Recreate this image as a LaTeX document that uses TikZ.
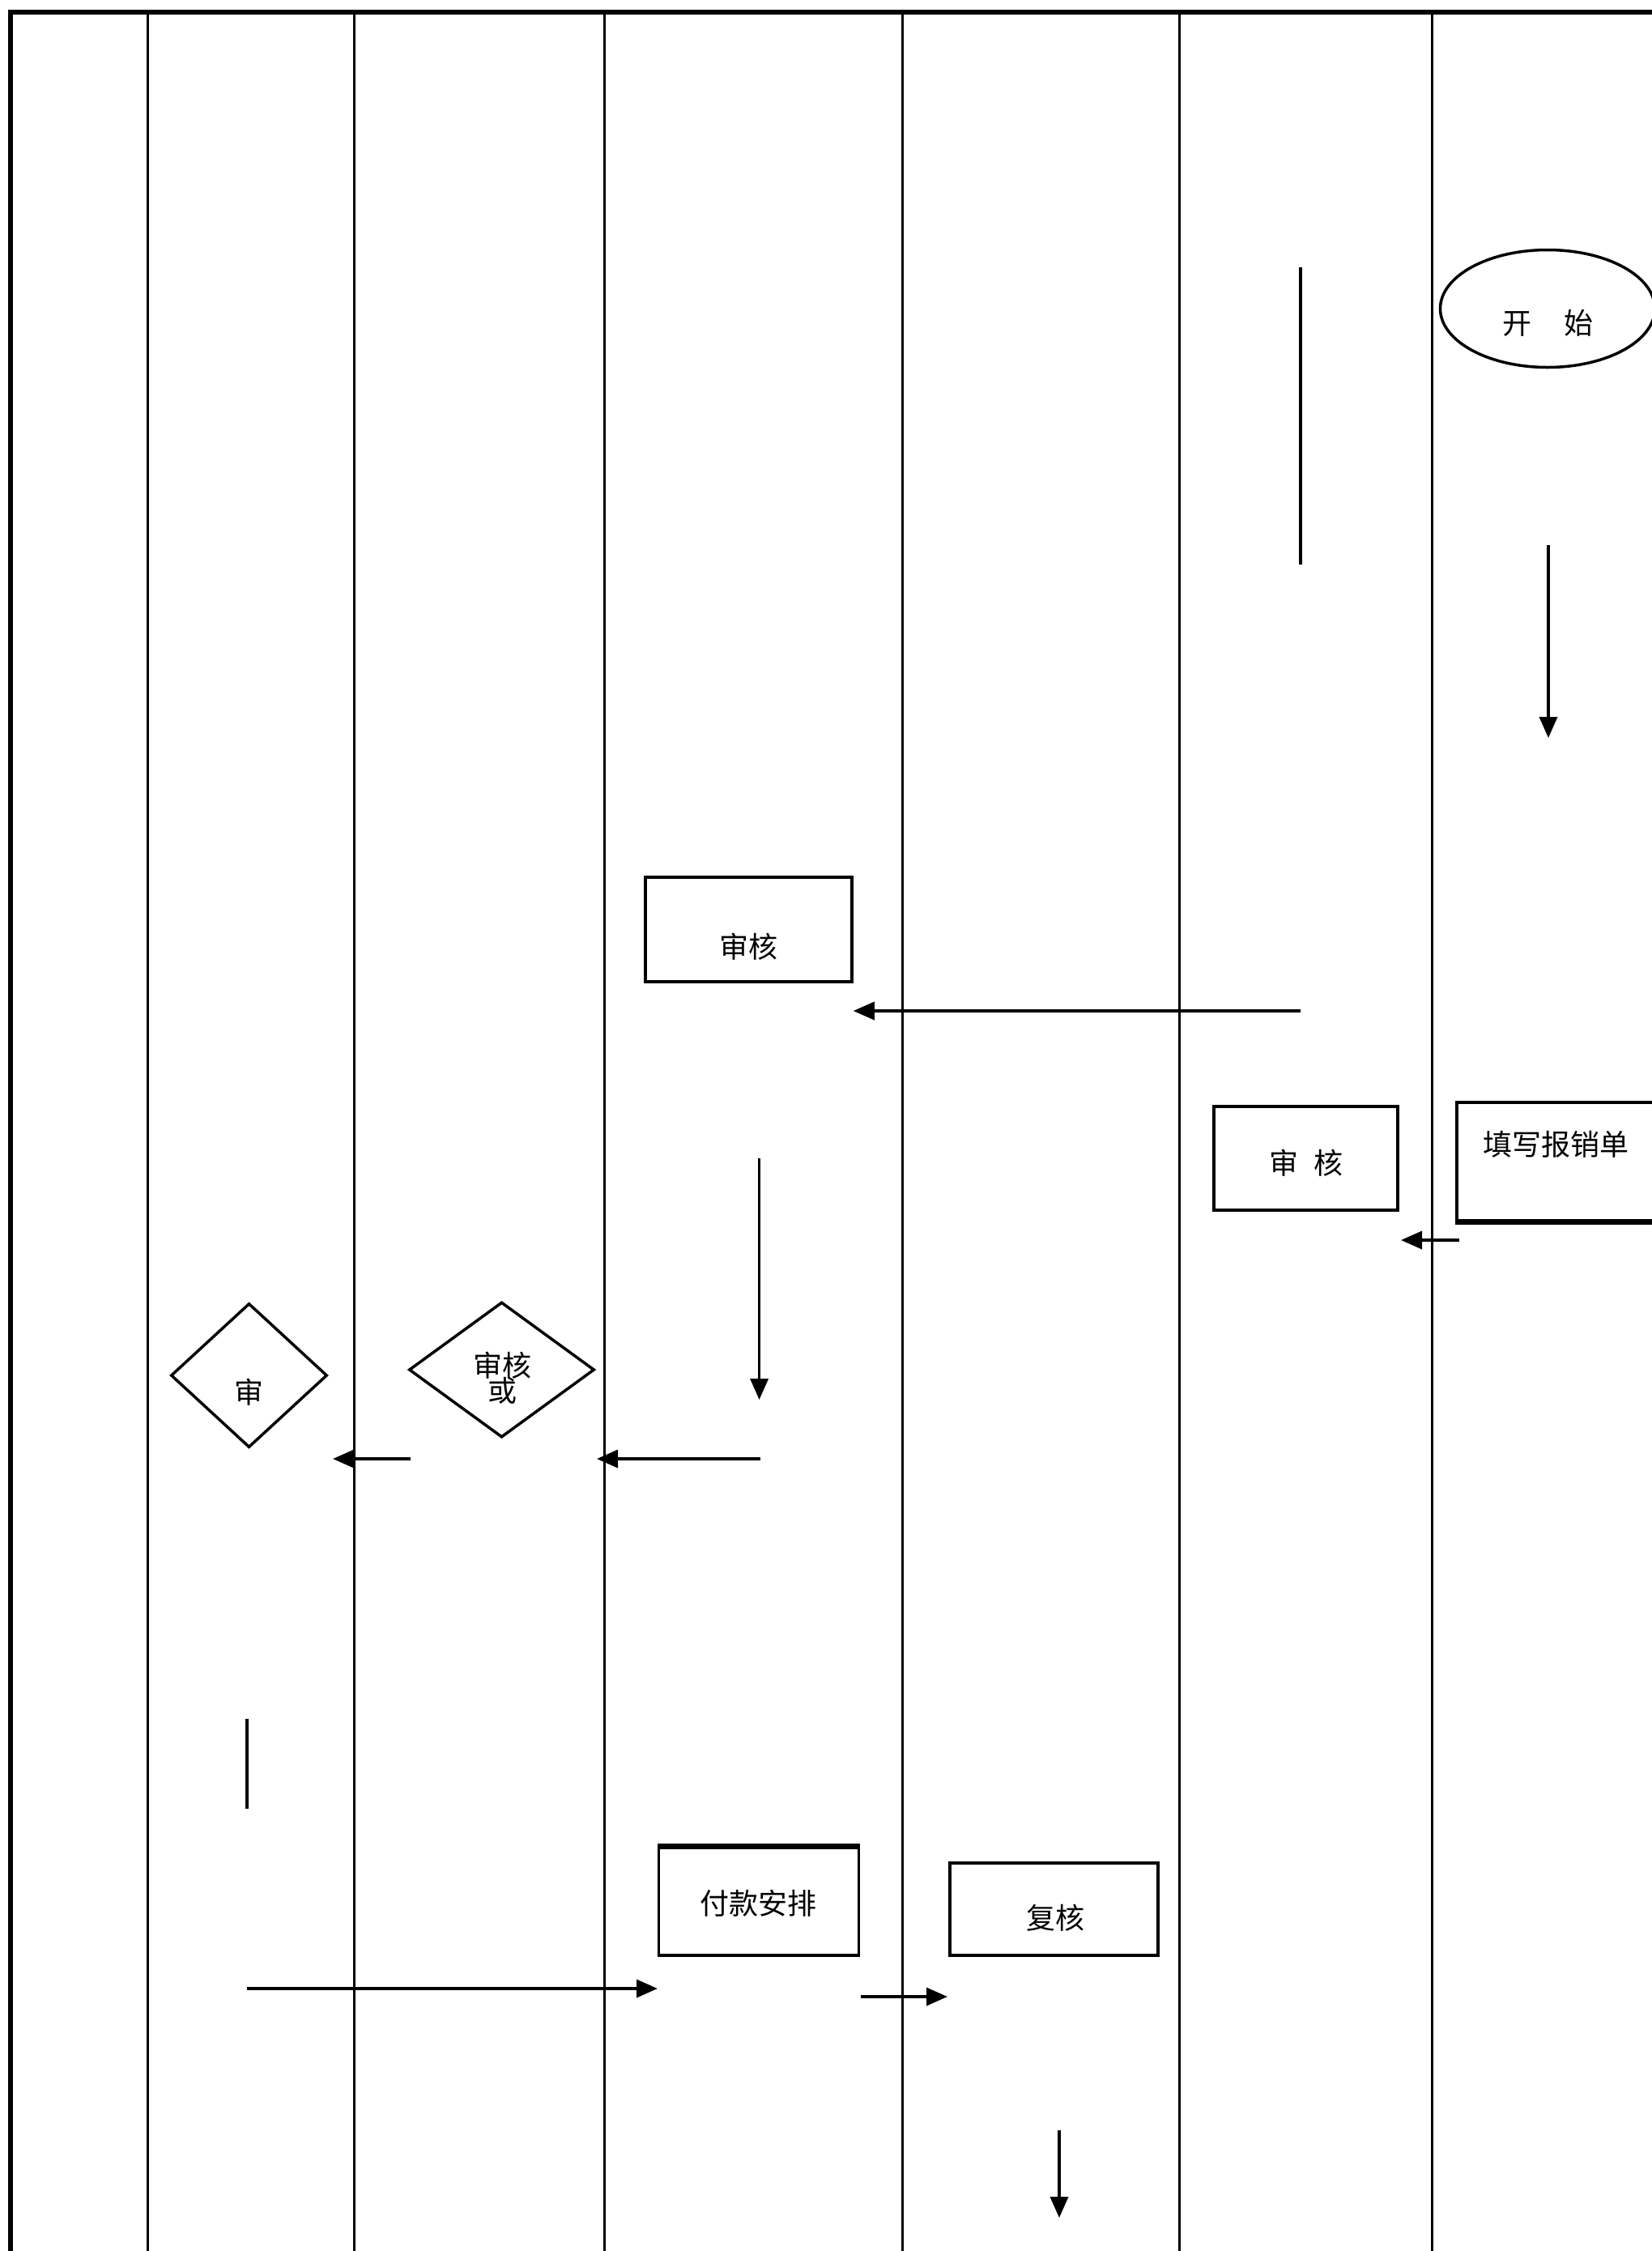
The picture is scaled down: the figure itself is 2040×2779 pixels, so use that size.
\documentclass[tikz,border=0pt]{standalone}
\usepackage{fontspec}
\newfontfamily\cjk{Noto Sans CJK SC}
\usetikzlibrary{arrows.meta,shapes.geometric}
\begin{document}
\begin{tikzpicture}[x=1pt,y=-1pt,
  lane/.style={line width=3pt},
  shapeline/.style={draw,line width=3.5pt,inner sep=0pt},
  box/.style={shapeline,rectangle},
  dia/.style={shapeline,diamond},
  lbl/.style={font=\cjk\fontsize{36}{42}\selectfont,inner sep=0pt},
  arr/.style={line width=3.5pt,-{Triangle[length=26pt,width=22pt]}},
  seg/.style={line width=3.5pt}
]
\clip (0,0) rectangle (2040,2779);
\fill[white] (0,0) rectangle (2040,2779);
% swimlane separators
\foreach \x in {182.6,437.8,746.2,1114.8,1456.9,1768.9}
  \draw[lane] (\x,15) -- (\x,2800);
% outer frame
\draw[line width=6pt] (13,2800) -- (13,15) -- (2060,15);

% start
\node[shapeline,ellipse,minimum width=265,minimum height=145] (start) at (1911,381) {};
\node[lbl] (startT) at (1911,399) {开\hspace{40pt}始};

% loose vertical line
\coordinate (v1a) at (1606,330);
\coordinate (v1b) at (1606,697);
\draw[seg] (v1a) -- (v1b);

% arrow down from start
\coordinate (a1s) at (1912,673);
\coordinate (a1e) at (1912,911);
\draw[arr] (a1s) -- (a1e);

% box audit lane 4
\node[box,minimum width=255,minimum height=129] (audit4) at (924.5,1147.5) {};
\node[lbl] (audit4T) at (924,1169) {审核};

% long arrow to audit4
\coordinate (a2s) at (1606,1248);
\draw[arr] (a2s) -- (audit4.east |- a2s);

% box audit lane 6
\node[box,minimum width=227,minimum height=128] (audit6) at (1612.5,1430) {};
\node[lbl] (audit6T) at (1613,1436) {审\hspace{20pt}核};

% box fill form
\node[box,minimum width=261,minimum height=146] (fill) at (1929.5,1434) {};
\draw[line width=6pt] (fill.south west) -- (fill.south east);
\node[lbl] (fillT) at (1921,1413) {填写报销单};

% short arrow left
\coordinate (a3s) at (1802,1531);
\coordinate (a3e) at (1730,1531);
\draw[arr] (a3s) -- (a3e);

% arrow down lane 4
\coordinate (a4s) at (937.6,1430);
\coordinate (a4e) at (937.6,1728);
\draw[arr] (a4s) -- (a4e);

% diamonds
\node[dia,minimum width=229,minimum height=167] (dec3) at (619.5,1691) {};
\node[lbl] (dec3Ta) at (620,1686) {审核};
\node[lbl] (dec3Tb) at (620,1717) {或};
\node[dia,minimum width=193,minimum height=178] (dec2) at (307.5,1698) {};
\node[lbl] (dec2T) at (307,1719) {审};

\coordinate (a5s) at (939,1801);
\coordinate (a5e) at (737,1801);
\draw[arr] (a5s) -- (a5e);
\coordinate (a6s) at (507,1801);
\coordinate (a6e) at (411,1801);
\draw[arr] (a6s) -- (a6e);

% loose short line
\coordinate (v2a) at (305,2122);
\coordinate (v2b) at (305,2233);
\draw[seg] (v2a) -- (v2b);

% payment arrangement
\node[box,minimum width=247,minimum height=133] (pay) at (937,2347.5) {};
\draw[line width=6pt] (pay.north west) -- (pay.north east);
\node[lbl] (payT) at (936,2350) {付款安排};

% recheck
\node[box,minimum width=257,minimum height=114] (re) at (1301.5,2357) {};
\node[lbl] (reT) at (1303,2368) {复核};

\coordinate (a7s) at (305,2455);
\coordinate (a7e) at (812,2455);
\draw[arr] (a7s) -- (a7e);
\coordinate (a8s) at (1063,2465);
\coordinate (a8e) at (1170,2465);
\draw[arr] (a8s) -- (a8e);
\coordinate (a9s) at (1308,2630);
\coordinate (a9e) at (1308,2738);
\draw[arr] (a9s) -- (a9e);
\end{tikzpicture}
\end{document}
